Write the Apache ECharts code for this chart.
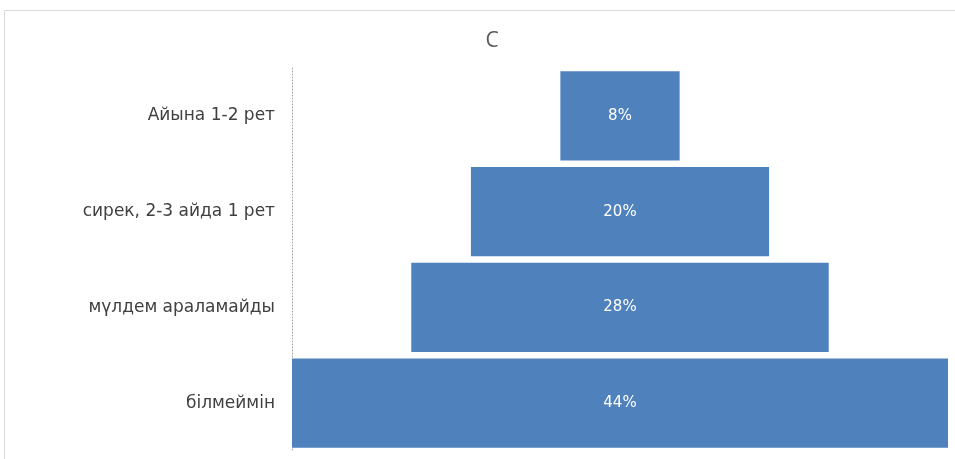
<!DOCTYPE html>
<html>
<head>
<meta charset="utf-8">
<script src="https://cdn.jsdelivr.net/npm/echarts@6/dist/echarts.min.js"></script>
<style>
  html, body { margin: 0; padding: 0; background: #fff; }
  #chart { width: 955px; height: 459px; }
</style>
</head>
<body>
<div id="chart"></div>
<script>
// categories from top to bottom
var categories = ['Айына 1-2 рет', 'сирек, 2-3 айда 1 рет', 'мүлдем араламайды', 'білмеймін']
var values = [8, 20, 28, 44]
var maxValue = 44

// invisible offset to center each bar
var offsets = values.map(function (v) { return (maxValue - v) / 2 })

var chart = echarts.init(document.getElementById('chart'))
chart.setOption({
  animation: false,
  title: {
    text: 'C',
    left: 487,
    top: 26,
    textAlign: 'center',
    textStyle: { fontFamily: 'Open Sans', fontSize: 21, fontWeight: 'normal', color: '#595959' }
  },
  graphic: [{
    type: 'rect',
    shape: { x: 4.5, y: 10.5, width: 980, height: 480 },
    style: { fill: 'none', stroke: '#d9d9d9', lineWidth: 1 },
    silent: true
  }],
  grid: { left: 292, right: 7, top: 68, bottom: 8 },
  xAxis: {
    type: 'value',
    min: 0,
    max: maxValue,
    show: false
  },
  yAxis: {
    type: 'category',
    data: categories,
    inverse: true,
    axisTick: { show: false },
    axisLine: { show: true, lineStyle: { color: '#a6a6a6', type: [1, 2] } },
    axisLabel: { color: '#404040', fontSize: 17, fontFamily: 'DejaVu Sans', margin: 17 }
  },
  series: [{
    type: 'bar',
    stack: 'a',
    data: offsets,
    itemStyle: { color: 'transparent' },
    barCategoryGap: '7%',
    silent: true
  }, {
    type: 'bar',
    stack: 'a',
    data: values,
    itemStyle: { color: '#4F81BD' },
    barCategoryGap: '7%',
    label: {
      show: true,
      position: 'inside',
      formatter: '{c}%',
      color: '#fff',
      fontSize: 15,
      fontFamily: 'DejaVu Sans'
    }
  }]
})
</script>
</body>
</html>
